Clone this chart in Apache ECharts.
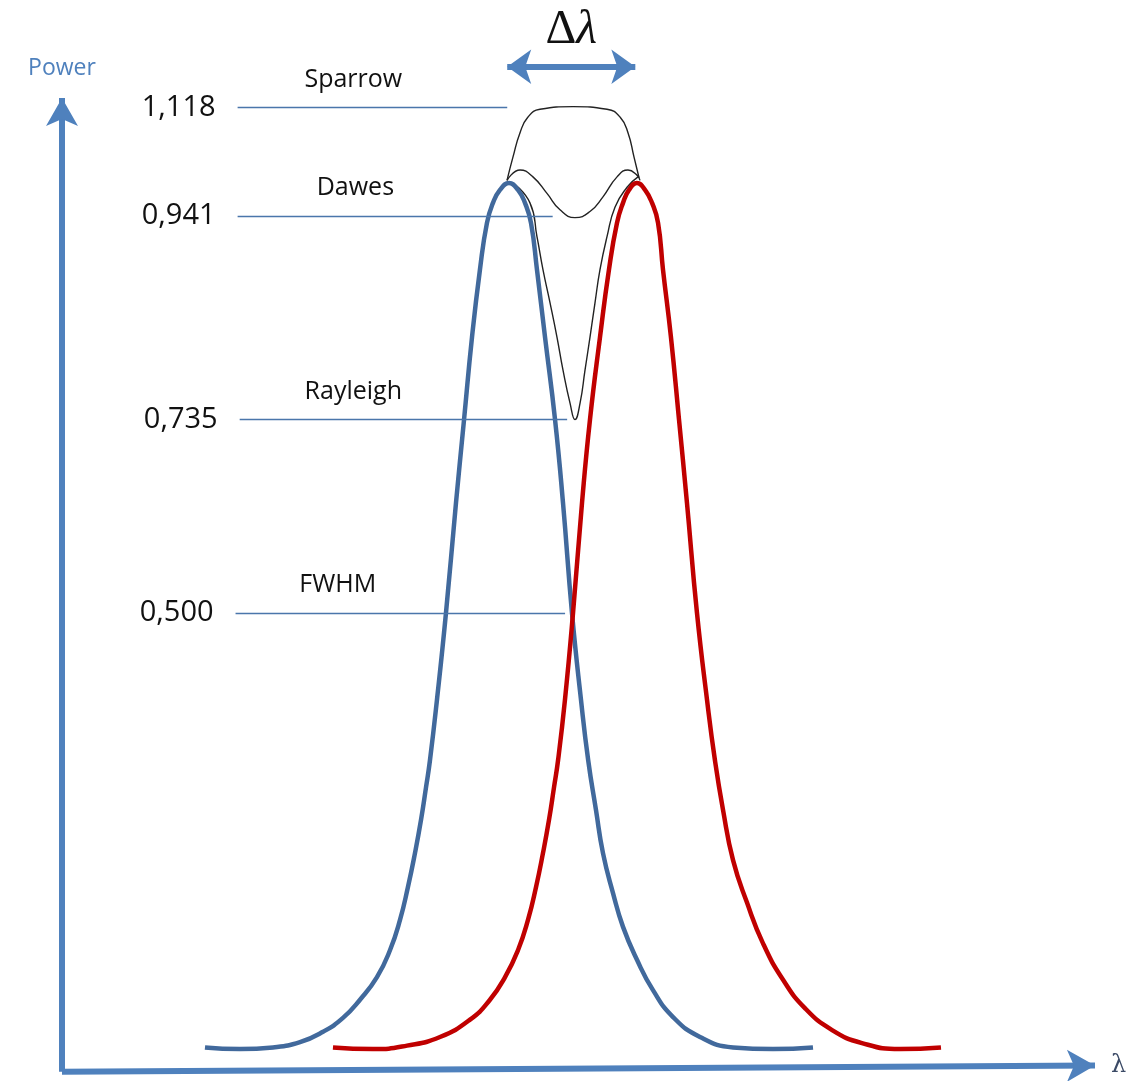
<!DOCTYPE html>
<html>
<head>
<meta charset="utf-8">
<title>Resolution criteria</title>
<script src="https://cdn.jsdelivr.net/npm/echarts@6/dist/echarts.min.js"></script>
<style>
  html, body { margin: 0; padding: 0; background: #fff; }
  #chart { width: 1144px; height: 1081px; }
</style>
</head>
<body>
<div id="chart"></div>
<script>
// blue profile (wavelength, power)
var blueX = [13.84, 17.23, 20.43, 23.04, 25.27, 27.20, 28.85, 30.49, 31.75, 32.72, 33.49, 34.17, 34.75, 35.24, 35.62, 36.30,
  37.17, 38.14, 38.92, 39.69, 40.46, 41.14, 41.72, 42.40, 43.27, 44.14, 44.82, 45.40, 45.98, 46.76, 47.73, 48.50, 49.37,
  50.24, 50.94, 51.69, 52.37, 53.34, 54.31, 55.66, 57.21, 59.15, 61.76, 64.96, 68.83, 72.70];
var blueY = [0.003, 0.001, 0.003, 0.009, 0.021, 0.037, 0.058, 0.084, 0.115, 0.150, 0.188, 0.227, 0.265, 0.303, 0.334, 0.404,
  0.504, 0.631, 0.727, 0.822, 0.900, 0.954, 0.977, 0.992, 1.000, 0.992, 0.977, 0.954, 0.900, 0.822, 0.727, 0.631, 0.504,
  0.404, 0.334, 0.277, 0.227, 0.181, 0.142, 0.104, 0.069, 0.038, 0.015, 0.003, 0.001, 0.003];

// red profile
var redX = [26.23, 30.11, 33.40, 36.59, 39.50, 41.43, 42.89, 44.14, 45.11, 45.89, 46.56, 47.14, 47.63, 48.02, 48.69, 49.47,
  50.34, 51.11, 52.08, 52.95, 53.73, 54.31, 54.89, 55.66, 56.44, 57.12, 57.70, 58.18, 58.95, 59.73, 60.50, 61.47, 62.44,
  63.21, 63.99, 64.96, 66.31, 67.86, 69.80, 71.94, 74.55, 77.44, 81.12, 85.09];
var redY = [0.003, 0.001, 0.005, 0.015, 0.035, 0.058, 0.084, 0.115, 0.150, 0.188, 0.227, 0.265, 0.303, 0.334, 0.404, 0.504,
  0.631, 0.727, 0.822, 0.900, 0.954, 0.977, 0.992, 1.000, 0.992, 0.977, 0.954, 0.900, 0.822, 0.727, 0.631, 0.504, 0.404,
  0.334, 0.277, 0.219, 0.170, 0.123, 0.081, 0.048, 0.023, 0.008, 0.001, 0.003];

// summed profiles (thin black)
var sparrowX = [43.08, 43.66, 44.34, 45.11, 46.27, 49.47, 52.76, 54.02, 54.79, 55.37, 55.86];
var sparrowY = [1.003, 1.030, 1.058, 1.076, 1.085, 1.088, 1.085, 1.076, 1.058, 1.030, 1.006];

var dawesX = [43.08, 44.34, 45.59, 46.95, 48.21, 49.66, 51.11, 52.37, 53.73, 54.79, 55.66, 55.95];
var dawesY = [1.003, 1.015, 1.007, 0.988, 0.969, 0.960, 0.967, 0.984, 1.007, 1.015, 1.009, 1.003];

var rayleighX = [43.66, 45.30, 45.98, 46.56, 47.24, 47.92, 48.50, 49.18, 49.66, 50.15, 50.63, 51.11, 51.60, 52.08, 52.76, 53.53, 54.70, 55.76];
var rayleighY = [1.000, 0.977, 0.938, 0.900, 0.862, 0.822, 0.784, 0.746, 0.727, 0.746, 0.784, 0.822, 0.862, 0.900, 0.938, 0.972, 0.995, 1.007];

// criteria levels
var levelNames = ["Sparrow", "Dawes", "Rayleigh", "FWHM"];
var levelLabels = ["1,118", "0,941", "0,735", "0,500"];
var levelY = [1.087, 0.962, 0.727, 0.504];
var levelStartX = [17.0, 17.0, 17.2, 16.8];
var levelEndX = [43.1, 47.5, 48.9, 48.7];

// peak to peak span
var deltaSpan = [43.1, 55.5];

function pairs(xs, ys) {
  return xs.map(function (x, i) { return [x, ys[i]]; });
}

var AXIS_BLUE = "#4f81bd";
var yMin = -0.03, yMax = 1.211;
var nameX = [28.2, 28.4, 28.2, 26.7];

var levelLines = levelY.map(function (y, i) {
  return [
    {
      coord: [levelStartX[i], y],
      label: {
        show: true,
        position: "start",
        formatter: levelLabels[i],
        distance: 22,
        fontSize: 29,
        color: "#111",
        fontFamily: "Open Sans",
      },
    },
    { coord: [levelEndX[i], y] },
  ];
});

var levelNamePoints = levelY.map(function (y, i) {
  return {
    coord: [nameX[i], y],
    label: {
      show: true,
      position: "inside",
      offset: [0, -28],
      formatter: levelNames[i],
      fontSize: 25,
      color: "#111",
      fontFamily: "Open Sans",
    },
  };
});

var myChart = echarts.init(document.getElementById("chart"));
var option = {
  animation: false,
  backgroundColor: "#fff",
  grid: { left: 62, right: 49, top: 0, bottom: 5 },
  xAxis: { type: "value", min: 0, max: 100, show: false },
  yAxis: { type: "value", min: yMin, max: yMax, show: false },
  series: [
    {
      // axes, levels and the delta arrow
      type: "line",
      data: [],
      silent: true,
      markLine: {
        silent: true,
        animation: false,
        symbol: "none",
        lineStyle: { color: "#4a76ab", width: 1.3, type: "solid" },
        data: [
          [
            { coord: [0, -0.025], symbol: "none", lineStyle: { color: AXIS_BLUE, width: 6 },
              label: { show: true, position: "end", formatter: "Power", distance: 18, fontSize: 23, color: AXIS_BLUE, fontFamily: "Open Sans" } },
            { coord: [0, 1.098], symbol: "arrow", symbolSize: [24, 28] },
          ],
          [
            { coord: [0, -0.025], symbol: "none", lineStyle: { color: AXIS_BLUE, width: 6 },
              label: { show: true, position: "end", formatter: "λ", distance: 16, fontSize: 24, color: "#3b4a66", fontFamily: "DejaVu Serif" } },
            { coord: [100, -0.018], symbol: "arrow", symbolSize: [24, 28] },
          ],
          [
            { coord: [deltaSpan[0], 1.134], symbol: "arrow", symbolSize: [26, 24], lineStyle: { color: AXIS_BLUE, width: 6 },
              label: {
                show: true,
                position: "insideMiddleTop",
                distance: 12,
                formatter: "{d|Δ}{l|λ}",
                rich: {
                  d: { fontSize: 48, fontFamily: "Liberation Serif", color: "#111" },
                  l: { fontSize: 48, fontFamily: "Liberation Serif", fontStyle: "italic", color: "#111" },
                },
              } },
            { coord: [deltaSpan[1], 1.134], symbol: "arrow", symbolSize: [26, 24] },
          ],
        ].concat(levelLines),
      },
      markPoint: {
        silent: true,
        symbol: "circle",
        symbolSize: 0,
        data: levelNamePoints,
      },
    },
    {
      name: "Sparrow",
      type: "line",
      data: pairs(sparrowX, sparrowY),
      smooth: 0.5,
      showSymbol: false,
      lineStyle: { color: "#222", width: 1.4 },
      z: 2,
    },
    {
      name: "Dawes",
      type: "line",
      data: pairs(dawesX, dawesY),
      smooth: 0.5,
      showSymbol: false,
      lineStyle: { color: "#222", width: 1.4 },
      z: 2,
    },
    {
      name: "Rayleigh",
      type: "line",
      data: pairs(rayleighX, rayleighY),
      smooth: 0.5,
      showSymbol: false,
      lineStyle: { color: "#222", width: 1.4 },
      z: 2,
    },
    {
      name: "blue",
      type: "line",
      data: pairs(blueX, blueY),
      smooth: 0.5,
      showSymbol: false,
      lineStyle: { color: "#41699c", width: 4.5 },
      z: 3,
    },
    {
      name: "red",
      type: "line",
      data: pairs(redX, redY),
      smooth: 0.5,
      showSymbol: false,
      lineStyle: { color: "#c00000", width: 4.5 },
      z: 3,
    },
  ],
};
myChart.setOption(option, true);
window.addEventListener("resize", function () {
  myChart.resize();
});
</script>
</body>
</html>
